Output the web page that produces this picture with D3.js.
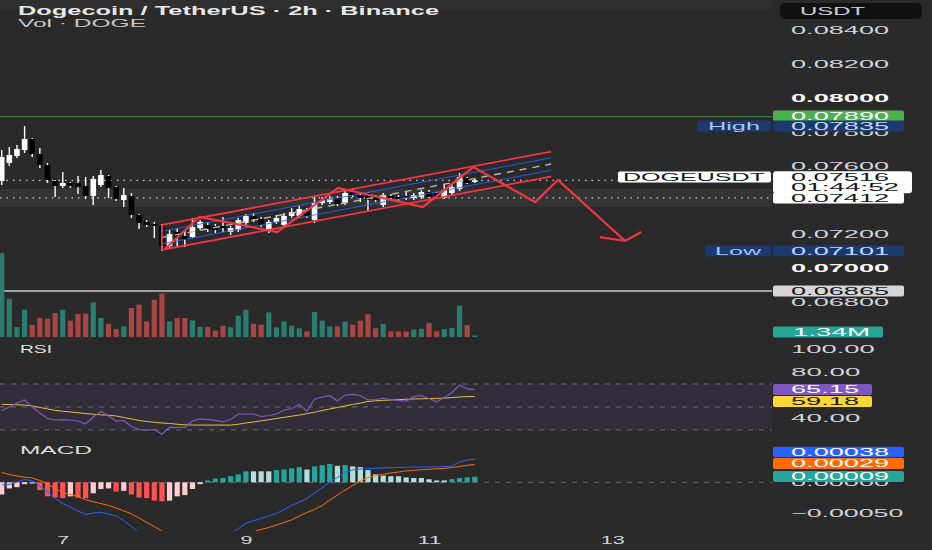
<!DOCTYPE html>
<html>
<head>
<meta charset="utf-8">
<script src="https://cdn.jsdelivr.net/npm/d3@7"></script>
<style>
  html, body { margin: 0; padding: 0; background: #2a2a2a; }
  svg { display: block; }
  text { font-family: "Liberation Sans", Arial, sans-serif; }
</style>
</head>
<body>
<svg width="932" height="550"></svg>
<script>
// 2h candles, DOGE/USDT
var opens = [0.07512, 0.07618, 0.07659, 0.07694, 0.07759, 0.07671, 0.07606, 0.07512, 0.07482, 0.07500,
  0.07500, 0.07482, 0.07424, 0.07488, 0.07541, 0.07476, 0.07400, 0.07424, 0.07312, 0.07271,
  0.07259, 0.07247, 0.07129, 0.07212, 0.07188, 0.07182, 0.07235, 0.07253, 0.07247, 0.07247,
  0.07212, 0.07224, 0.07265, 0.07306, 0.07288, 0.07218, 0.07271, 0.07253, 0.07306, 0.07306,
  0.07341, 0.07282, 0.07382, 0.07388, 0.07412, 0.07382, 0.07447, 0.07429, 0.07441, 0.07418,
  0.07371, 0.07424, 0.07418, 0.07424, 0.07412, 0.07418, 0.07447, 0.07441, 0.07412, 0.07441,
  0.07465, 0.07529, 0.07506];
var highs = [0.07694, 0.07712, 0.07724, 0.07835, 0.07765, 0.07706, 0.07618, 0.07518, 0.07565, 0.07506,
  0.07541, 0.07535, 0.07541, 0.07576, 0.07547, 0.07482, 0.07471, 0.07441, 0.07318, 0.07282,
  0.07271, 0.07259, 0.07224, 0.07235, 0.07224, 0.07294, 0.07282, 0.07271, 0.07259, 0.07300,
  0.07247, 0.07294, 0.07318, 0.07324, 0.07300, 0.07282, 0.07312, 0.07324, 0.07353, 0.07365,
  0.07353, 0.07424, 0.07418, 0.07424, 0.07424, 0.07453, 0.07471, 0.07447, 0.07447, 0.07429,
  0.07441, 0.07435, 0.07429, 0.07453, 0.07441, 0.07459, 0.07459, 0.07447, 0.07488, 0.07494,
  0.07559, 0.07535, 0.07524];
var lows = [0.07488, 0.07600, 0.07647, 0.07676, 0.07653, 0.07588, 0.07500, 0.07418, 0.07471, 0.07471,
  0.07435, 0.07406, 0.07371, 0.07476, 0.07412, 0.07394, 0.07359, 0.07294, 0.07229, 0.07241,
  0.07176, 0.07101, 0.07118, 0.07129, 0.07124, 0.07176, 0.07224, 0.07212, 0.07206, 0.07212,
  0.07194, 0.07212, 0.07253, 0.07271, 0.07241, 0.07206, 0.07259, 0.07241, 0.07294, 0.07294,
  0.07294, 0.07265, 0.07371, 0.07376, 0.07365, 0.07371, 0.07418, 0.07388, 0.07329, 0.07388,
  0.07359, 0.07400, 0.07394, 0.07400, 0.07400, 0.07406, 0.07412, 0.07406, 0.07406, 0.07429,
  0.07453, 0.07494, 0.07500];
var closes = [0.07653, 0.07665, 0.07700, 0.07759, 0.07671, 0.07606, 0.07518, 0.07482, 0.07500, 0.07482,
  0.07476, 0.07424, 0.07524, 0.07547, 0.07471, 0.07406, 0.07429, 0.07312, 0.07265, 0.07253,
  0.07247, 0.07129, 0.07200, 0.07182, 0.07165, 0.07241, 0.07271, 0.07229, 0.07224, 0.07235,
  0.07235, 0.07282, 0.07306, 0.07288, 0.07253, 0.07271, 0.07294, 0.07306, 0.07329, 0.07347,
  0.07306, 0.07382, 0.07400, 0.07406, 0.07376, 0.07441, 0.07429, 0.07412, 0.07400, 0.07400,
  0.07429, 0.07412, 0.07406, 0.07412, 0.07429, 0.07447, 0.07418, 0.07412, 0.07459, 0.07476,
  0.07535, 0.07500, 0.07516];
// volume in millions of DOGE
var volumes = [79, 36, 9.4, 25.7, 11.6, 17.9, 17.3, 22.6, 25.7, 15.4,
  21.6, 22, 32.6, 17.9, 12.5, 7.5, 10, 27.3, 30.4, 14.7,
  35.1, 40.8, 14.7, 17.9, 17.9, 15.7, 9.4, 9.4, 6, 10.7,
  9.1, 20.1, 25.7, 12.5, 11.6, 23.2, 9.1, 14.7, 10.7, 8.2,
  5.3, 23.5, 15.4, 10, 10, 14.4, 11.6, 15.4, 21.6, 8.2,
  12.2, 5.3, 5.3, 5.3, 6.9, 7.8, 13.2, 5.3, 7.5, 8.5,
  29.5, 11.3, 1.34];
var rsi = [47.0, 50.0, 53.5, 56.1, 50.0, 44.8, 40.0, 38.7, 39.1, 38.7,
  37.8, 35.2, 41.3, 46.1, 42.2, 37.8, 38.3, 33.0, 30.4, 30.0,
  30.4, 26.3, 32.2, 32.3, 32.3, 37.8, 39.6, 39.1, 38.3, 37.0,
  39.1, 43.9, 43.9, 43.9, 41.7, 42.6, 43.9, 47.4, 48.7, 52.2,
  46.5, 57.0, 58.7, 59.8, 55.2, 60.4, 60.9, 60.0, 56.1, 56.5,
  57.6, 56.5, 55.7, 55.2, 59.0, 59.8, 57.4, 54.6, 58.3, 62.6,
  69.1, 65.7, 65.15];
var rsiMa = [52.3, 52.2, 51.9, 51.7, 50.9, 49.6, 48.3, 47.1, 46.3, 45.7,
  45.0, 44.3, 43.7, 43.2, 42.8, 42.2, 40.9, 39.6, 38.3, 37.4,
  36.7, 36.1, 35.7, 35.0, 34.5, 34.3, 34.3, 34.3, 34.3, 34.3,
  34.3, 35.0, 36.1, 37.0, 38.0, 38.9, 40.0, 41.0, 42.0, 43.0,
  44.2, 45.5, 46.9, 48.3, 49.6, 50.9, 52.2, 53.4, 54.8, 55.4,
  55.8, 56.1, 56.4, 56.7, 57.0, 57.1, 57.3, 57.5, 57.7, 58.2,
  58.7, 59.1, 59.18];
var macd = [-0.000044, -0.000036, 0.000005, 0.000046, 0.000025, -0.000061, -0.000151, -0.000266, -0.000348, -0.000405,
  -0.000471, -0.000528, -0.000503, -0.000495, -0.00052, -0.000553, -0.000626, -0.000725, -0.000831, -0.000918,
  -0.00102, -0.00111, -0.001164, -0.001148, -0.001173, -0.001091, -0.001014, -0.000943, -0.000902, -0.000886,
  -0.000828, -0.000763, -0.000672, -0.000631, -0.00059, -0.000553, -0.000512, -0.000446, -0.00038, -0.000323,
  -0.000266, -0.000175, -0.00009, 0.000005, 0.000079, 0.000169, 0.000202, 0.000218, 0.000223, 0.00023,
  0.000235, 0.000239, 0.000244, 0.000248, 0.000251, 0.000251, 0.000251, 0.000254, 0.000256, 0.000267,
  0.000333, 0.000366, 0.00038];
var signal = [0.000161, 0.000128, 0.000103, 0.000084, 0.000071, 0.00003, -0.000028, -0.000102, -0.000166, -0.0002,
  -0.000238, -0.000284, -0.000318, -0.000349, -0.000379, -0.000421, -0.000467, -0.000517, -0.000585, -0.000656,
  -0.000725, -0.000799, -0.000869, -0.000918, -0.000959, -0.000976, -0.000981, -0.000976, -0.000968, -0.000951,
  -0.000927, -0.000894, -0.000853, -0.000812, -0.000771, -0.000741, -0.0007, -0.000659, -0.000615, -0.000553,
  -0.000495, -0.000443, -0.00038, -0.00029, -0.000208, -0.000126, -0.000052, 0.000021, 0.000079, 0.000108,
  0.000131, 0.000153, 0.000169, 0.000185, 0.000197, 0.000207, 0.000215, 0.000221, 0.000228, 0.000241,
  0.000259, 0.00028, 0.00029];
var hist = [-0.00020, -0.00010, -0.00008, -0.00003, -0.00002, -0.00013, -0.00023, -0.00025, -0.00026, -0.00023,
  -0.00025, -0.00026, -0.00018, -0.00011, -0.00010, -0.00015, -0.00014, -0.00020, -0.00025, -0.00026,
  -0.00030, -0.00031, -0.00030, -0.00023, -0.00021, -0.00011, -0.00003, 0.00003, 0.00006, 0.00007,
  0.00010, 0.00013, 0.00018, 0.00018, 0.00018, 0.00018, 0.00020, 0.00021, 0.00023, 0.00025,
  0.00021, 0.00026, 0.00028, 0.00030, 0.00027, 0.00028, 0.00026, 0.00025, 0.00020, 0.00013,
  0.00011, 0.00010, 0.00010, 0.00008, 0.00007, 0.00007, 0.00005, 0.00003, 0.00003, 0.00005,
  0.00007, 0.00008, 0.00009];

// axis ticks (the ones hidden behind value tags are left out)
var priceTicks = [0.084, 0.082, 0.080, 0.078, 0.076, 0.072, 0.070, 0.068];
var rsiTicks = [100, 80, 40];
var rsiBands = [70, 50, 30];
var macdTicks = [0, -0.0005];
var dayTickIdx = [8, 32, 56, 80];
var dayLabels = ['7', '9', '11', '13'];

// horizontal levels drawn on the chart
var levelPrices = [0.07890, 0.06865];
var prevLinePrice = 0.07412;
var zoneBand = [0.07465, 0.07359];

// parallel channel (bar index, price)
var chanIdx = [21, 72];
var chanUpper = [0.07253, 0.07685];
var chanLower = [0.07106, 0.07538];
var chanInner = [0.25, 0.5, 0.75];

// projected zigzag path + arrow head
var zigIdx = [21.4, 25.9, 36.1, 44.1, 55.2, 61.8, 69.9, 72.9, 81.7];
var zigPrice = [0.07112, 0.07300, 0.07212, 0.07471, 0.07359, 0.07594, 0.07388, 0.07518, 0.07159];
var arrowIdx = [78.4, 81.7, 83.8];
var arrowPrice = [0.07182, 0.07159, 0.07212];

var svg = d3.select('svg');
var W = 932, H = 550;
var plotRight = 772;
var font = '"Liberation Sans", Arial, sans-serif';

// scales, one per pane
var x = d3.scaleLinear().domain([0, 62]).range([1.7, 474.8]);
var yP = d3.scaleLinear().domain([0.07, 0.08]).range([268, 98]);
var yV = d3.scaleLinear().domain([0, 80]).range([337, 252]);
var yR = d3.scaleLinear().domain([30, 70]).range([430, 384]);
var yM = d3.scaleLinear().domain([-0.0005, 0]).range([512.8, 482.3]);

var idx = d3.range(closes.length);
var last = closes.length - 1;
function isUp(i) { return closes[i] >= opens[i]; }
function pairs(a, b) { return a.map(function (d, i) { return [d, b[i]]; }); }

svg.append('rect').attr('width', W).attr('height', H).attr('fill', '#2a2a2a');
svg.append('rect').attr('width', plotRight).attr('height', 9).attr('fill', '#303030');

// ---- price pane background bits
svg.append('rect')
  .attr('x', 0).attr('width', plotRight)
  .attr('y', yP(zoneBand[0])).attr('height', yP(zoneBand[1]) - yP(zoneBand[0]))
  .attr('fill', '#ffffff').attr('opacity', 0.05);

svg.append('line')
  .attr('x1', 0).attr('x2', plotRight)
  .attr('y1', yP(levelPrices[0])).attr('y2', yP(levelPrices[0]))
  .attr('stroke', '#3f8a4a').attr('stroke-width', 1);
svg.append('line')
  .attr('x1', 0).attr('x2', plotRight)
  .attr('y1', yP(levelPrices[1])).attr('y2', yP(levelPrices[1]))
  .attr('stroke', '#c8c8c8').attr('stroke-width', 1.5);

svg.append('line')
  .attr('x1', 0).attr('x2', 618)
  .attr('y1', yP(closes[last])).attr('y2', yP(closes[last]))
  .attr('stroke', '#d0d0d0').attr('stroke-width', 1.2).attr('stroke-dasharray', '1.5,5');
svg.append('line')
  .attr('x1', 0).attr('x2', plotRight)
  .attr('y1', yP(prevLinePrice)).attr('y2', yP(prevLinePrice))
  .attr('stroke', '#d0d0d0').attr('stroke-width', 1.2).attr('stroke-dasharray', '1.5,5');

// ---- volume
svg.append('g').selectAll('rect').data(idx).join('rect')
  .attr('x', function (i) { return x(i) - 2.6; })
  .attr('width', 5.2)
  .attr('y', function (i) { return yV(volumes[i]); })
  .attr('height', function (i) { return yV(0) - yV(volumes[i]); })
  .attr('fill', function (i) { return isUp(i) ? '#2b7d72' : '#a84644'; });

// ---- candles
var candles = svg.append('g');
candles.selectAll('line').data(idx).join('line')
  .attr('x1', function (i) { return x(i); })
  .attr('x2', function (i) { return x(i); })
  .attr('y1', function (i) { return yP(highs[i]); })
  .attr('y2', function (i) { return yP(lows[i]); })
  .attr('stroke', '#ffffff').attr('stroke-width', 1.4);
candles.selectAll('rect').data(idx).join('rect')
  .attr('x', function (i) { return x(i) - 2.8; })
  .attr('width', 5.6)
  .attr('y', function (i) { return yP(Math.max(opens[i], closes[i])); })
  .attr('height', function (i) { return Math.max(1.5, Math.abs(yP(opens[i]) - yP(closes[i]))); })
  .attr('fill', function (i) { return isUp(i) ? '#ffffff' : '#000000'; });

// ---- channel drawing
var line = d3.line().x(function (d) { return x(d[0]); }).y(function (d) { return yP(d[1]); });
var dr = svg.append('g').attr('fill', 'none');
chanInner.forEach(function (f) {
  var pts = chanIdx.map(function (c, k) { return [c, chanUpper[k] + (chanLower[k] - chanUpper[k]) * f]; });
  dr.append('path').attr('d', line(pts))
    .attr('stroke', f === 0.5 ? '#b8b8b8' : '#2962ff')
    .attr('stroke-width', f === 0.5 ? 1.4 : 1)
    .attr('stroke-dasharray', f === 0.5 ? '7,6' : null)
    .attr('opacity', f === 0.5 ? 1 : 0.85);
});
dr.append('path').attr('d', line(pairs(chanIdx, chanUpper))).attr('stroke', '#f23645').attr('stroke-width', 1.8);
dr.append('path').attr('d', line(pairs(chanIdx, chanLower))).attr('stroke', '#f23645').attr('stroke-width', 1.8);
dr.append('path').attr('d', line([[chanIdx[0], chanUpper[0]], [chanIdx[0], chanLower[0]]]))
  .attr('stroke', '#f23645').attr('stroke-width', 1.8);

dr.append('path').attr('d', line(pairs(zigIdx, zigPrice)))
  .attr('stroke', '#f23645').attr('stroke-width', 2.2).attr('stroke-linejoin', 'miter');
dr.append('path').attr('d', line(pairs(arrowIdx, arrowPrice)))
  .attr('stroke', '#f23645').attr('stroke-width', 2.2);

// ---- RSI pane
svg.append('rect')
  .attr('x', 0).attr('width', plotRight)
  .attr('y', yR(rsiBands[0])).attr('height', yR(rsiBands[2]) - yR(rsiBands[0]))
  .attr('fill', '#7e57c2').attr('opacity', 0.1);
svg.append('g').selectAll('line').data(rsiBands).join('line')
  .attr('x1', 0).attr('x2', plotRight)
  .attr('y1', function (d) { return yR(d); }).attr('y2', function (d) { return yR(d); })
  .attr('stroke', '#787b86').attr('stroke-dasharray', '5,6').attr('opacity', 0.8);

var rsiLine = d3.line().x(function (d, i) { return x(i); }).y(function (d) { return yR(d); });
svg.append('path').attr('d', rsiLine(rsiMa)).attr('fill', 'none').attr('stroke', '#e8bd3a').attr('stroke-width', 1);
svg.append('path').attr('d', rsiLine(rsi)).attr('fill', 'none').attr('stroke', '#7e57c2').attr('stroke-width', 1.2);

// ---- MACD pane
svg.append('clipPath').attr('id', 'macdClip')
  .append('rect').attr('x', 0).attr('y', 435).attr('width', plotRight).attr('height', 96);
svg.append('line')
  .attr('x1', 0).attr('x2', plotRight).attr('y1', yM(0)).attr('y2', yM(0))
  .attr('stroke', '#787b86').attr('stroke-dasharray', '5,6').attr('opacity', 0.8);

function histColor(i) {
  var prev = i > 0 ? hist[i - 1] : hist[i] - 1;
  if (hist[i] >= 0) return prev < hist[i] ? '#26a69a' : '#b2dfdb';
  return prev < hist[i] ? '#ffcdd2' : '#ff5252';
}
svg.append('g').selectAll('rect').data(idx).join('rect')
  .attr('x', function (i) { return x(i) - 2.6; })
  .attr('width', 5.2)
  .attr('y', function (i) { return Math.min(yM(0), yM(hist[i])); })
  .attr('height', function (i) { return Math.abs(yM(hist[i]) - yM(0)); })
  .attr('fill', histColor);

var macdLine = d3.line().x(function (d, i) { return x(i); }).y(function (d) { return yM(d); });
var mg = svg.append('g').attr('clip-path', 'url(#macdClip)').attr('fill', 'none');
mg.append('path').attr('d', macdLine(signal)).attr('stroke', '#ff6d00').attr('stroke-width', 1);
mg.append('path').attr('d', macdLine(macd)).attr('stroke', '#2962ff').attr('stroke-width', 1);

// ---- axes
function styleAxis(g, bold) {
  g.select('.domain').remove();
  g.selectAll('text')
    .attr('font-family', font).attr('font-size', 10.5)
    .attr('fill', function (d) { return bold && bold(d) ? '#ffffff' : '#d1d4dc'; })
    .attr('font-weight', function (d) { return bold && bold(d) ? 'bold' : 'normal'; })
    .attr('textLength', function () { return this.textContent.length * 14.3 - 2; })
    .attr('lengthAdjust', 'spacingAndGlyphs');
}
svg.append('g').attr('transform', 'translate(791,0)')
  .call(d3.axisRight(yP).tickValues(priceTicks).tickSize(0).tickPadding(0).tickFormat(d3.format('.5f')))
  .call(styleAxis, function (d) { return Math.abs(d * 100 - Math.round(d * 100)) < 1e-9; });
svg.append('g').attr('transform', 'translate(791,0)')
  .call(d3.axisRight(yR).tickValues(rsiTicks).tickSize(0).tickPadding(0).tickFormat(d3.format('.2f')))
  .call(styleAxis);
svg.append('g').attr('transform', 'translate(791,0)')
  .call(d3.axisRight(yM).tickValues(macdTicks).tickSize(0).tickPadding(0).tickFormat(d3.format('.5f')))
  .call(styleAxis);
svg.append('g').attr('transform', 'translate(0,537)')
  .call(d3.axisBottom(x).tickValues(dayTickIdx).tickSize(0).tickPadding(0)
    .tickFormat(function (d, i) { return dayLabels[i]; }))
  .call(function (g) {
    g.select('.domain').remove();
    g.selectAll('text').attr('font-family', font).attr('font-size', 10).attr('fill', '#d1d4dc')
      .attr('textLength', function () { return this.textContent.length * 12; })
      .attr('lengthAdjust', 'spacingAndGlyphs');
  });

// ---- value tags on the right scale
function tag(xb, yc, w, h, bg, txt, fg, tx, len) {
  svg.append('rect').attr('x', xb).attr('y', yc - h / 2).attr('width', w).attr('height', h)
    .attr('rx', 2).attr('fill', bg);
  svg.append('text').attr('x', tx).attr('y', yc + 3.8).text(txt)
    .attr('font-family', font).attr('font-size', 10.5).attr('fill', fg)
    .attr('textLength', len || txt.length * 14.3 - 2).attr('lengthAdjust', 'spacingAndGlyphs');
}
var f5 = d3.format('.5f'), f2 = d3.format('.2f');
var hiVal = d3.max(highs), loVal = d3.min(lows);

tag(773, yP(levelPrices[0]) - 1, 131, 10.5, '#4caf50', f5(levelPrices[0]), '#ffffff', 791);
tag(697, yP(hiVal), 74, 11, '#1c3a70', 'High', '#a9c4f5', 708, 52);
tag(773, yP(hiVal), 131, 11, '#1c3a70', f5(hiVal), '#c5d6fa', 791);
tag(705, yP(loVal), 66, 11, '#1c3a70', 'Low', '#a9c4f5', 715, 46);
tag(773, yP(loVal), 131, 11, '#1c3a70', f5(loVal), '#c5d6fa', 791);
tag(773, yP(levelPrices[1]), 131, 11, '#d6d6d6', f5(levelPrices[1]), '#131722', 791);

// last price + countdown + previous line
svg.append('rect').attr('x', 773).attr('y', yP(closes[last]) - 9).attr('width', 139).attr('height', 22)
  .attr('rx', 3).attr('fill', '#ffffff');
svg.append('text').attr('x', 791).attr('y', yP(closes[last]) + 0.3).text(f5(closes[last]))
  .attr('font-family', font).attr('font-size', 10.5).attr('fill', '#131722')
  .attr('textLength', 98).attr('lengthAdjust', 'spacingAndGlyphs');
svg.append('text').attr('x', 791).attr('y', yP(closes[last]) + 10.5).text('01:44:52')
  .attr('font-family', font).attr('font-size', 10.5).attr('fill', '#131722')
  .attr('textLength', 108).attr('lengthAdjust', 'spacingAndGlyphs');
tag(773, yP(prevLinePrice), 131, 11, '#ffffff', f5(prevLinePrice), '#131722', 791);
tag(618, yP(closes[last]) - 3.3, 153, 11, '#ffffff', 'DOGEUSDT', '#131722', 623, 142);

tag(773, 332, 110, 11, '#26a69a', volumes[last].toFixed(2) + 'M', '#ffffff', 793, 77);
tag(773, yR(rsi[last]), 99, 11, '#7e57c2', f2(rsi[last]), '#ffffff', 791, 68);
tag(773, yR(rsi[last]) + 12, 99, 11, '#fdd835', f2(rsiMa[last]), '#131722', 791, 68);
tag(773, 452, 131, 10.5, '#2962ff', f5(macd[last]), '#ffffff', 791);
tag(773, 463.5, 131, 11, '#ff6d00', f5(signal[last]), '#ffffff', 791);
tag(773, 476.5, 131, 11, '#26a69a', f5(hist[last]), '#ffffff', 791);

// currency box
svg.append('rect').attr('x', 780).attr('y', 3).attr('width', 142).attr('height', 16).attr('rx', 5).attr('fill', '#111111');
svg.append('text').attr('x', 800).attr('y', 15).text('USDT')
  .attr('font-family', font).attr('font-size', 10.5).attr('fill', '#d1d4dc')
  .attr('textLength', 65).attr('lengthAdjust', 'spacingAndGlyphs');

// ---- legends
function legend(tx, ty, txt, size, len, color, weight) {
  svg.append('text').attr('x', tx).attr('y', ty).text(txt)
    .attr('font-family', font).attr('font-size', size).attr('fill', color)
    .attr('font-weight', weight || 'normal')
    .attr('textLength', len).attr('lengthAdjust', 'spacingAndGlyphs');
}
legend(18, 15, 'Dogecoin / TetherUS · 2h · Binance', 12.5, 421, '#e8e8e8', 'bold');
legend(18, 27, 'Vol · DOGE', 11, 128, '#c8c8c8');
legend(20, 353, 'RSI', 10, 32, '#e0e0e0');
legend(20, 454, 'MACD', 10, 72, '#e0e0e0');
</script>
</body>
</html>
